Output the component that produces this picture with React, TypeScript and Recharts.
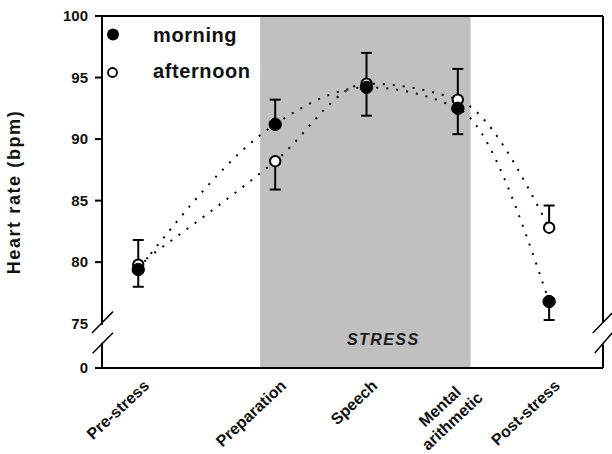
import { LineChart, Line, XAxis, YAxis, ErrorBar, ReferenceArea, ReferenceLine } from 'recharts'

// phases of the protocol
const categories = ['Pre-stress', 'Preparation', 'Speech', 'Mental arithmetic', 'Post-stress']
// mean heart rate (bpm)
const morningHR = [79.4, 91.2, 94.2, 92.5, 76.8]
const afternoonHR = [79.8, 88.2, 94.5, 93.2, 82.8]
// one-sided error bars (bpm)
const morningErrDown = [1.4, 0, 2.3, 2.1, 1.5]
const morningErrUp = [0, 2.0, 0, 0, 0]
const afternoonErrDown = [0, 2.3, 0, 0, 0]
const afternoonErrUp = [2.0, 0, 2.5, 2.5, 1.8]
const yTicks = [75, 80, 85, 90, 95, 100]

// axis layout: phase positions on the time axis, stress window, broken-axis floor
const PHASE_POS = [0, 1.5, 2.5, 3.5, 4.5]
const X_MIN = -0.397
const X_MAX = 5.09
const STRESS_FROM = 1.335
const STRESS_TO = 3.64
const Y_FLOOR = 71.4 // plotted position of "0" below the axis break
const Y_TOP = 100

const FONT = '"Liberation Sans", Arial, sans-serif'

const data = categories.map((c, i) => ({
  x: PHASE_POS[i],
  phase: c,
  morning: morningHR[i],
  afternoon: afternoonHR[i],
  mErr: [morningErrDown[i], morningErrUp[i]],
  aErr: [afternoonErrDown[i], afternoonErrUp[i]],
}))

function PhaseTick(props: any) {
  const { x, y, payload } = props
  const i = PHASE_POS.indexOf(payload.value)
  const label = categories[i] ?? ''
  const parts = label.split(' ')
  const style = { fontFamily: FONT, fontWeight: 700, fontSize: 16, fill: '#111' }
  if (parts.length > 1) {
    return (
      <g transform={`translate(${x + 26},${y + 31}) rotate(-43)`}>
        <text x={-12} y={-19} textAnchor="end" style={style}>{parts[0]}</text>
        <text x={0} y={0} textAnchor="end" style={style}>{parts[1]}</text>
      </g>
    )
  }
  return (
    <g transform={`translate(${x + 12},${y + 19}) rotate(-43)`}>
      <text x={0} y={0} textAnchor="end" style={style}>{label}</text>
    </g>
  )
}

function HRTick(props: any) {
  const { x, y, payload } = props
  const v = payload.value
  const label = v === Y_FLOOR ? '0' : String(v)
  return (
    <g>
      {v !== 75 && <line x1={x - 7} x2={x} y1={y} y2={y} stroke="#000" strokeWidth={2} />}
      <text x={x - 14} y={y} dy={5} textAnchor="end" style={{ fontFamily: FONT, fontWeight: 700, fontSize: 15, fill: '#111' }}>
        {label}
      </text>
    </g>
  )
}

function YTitle(props: any) {
  const vb = props.viewBox
  const cx = vb.x + 20
  const cy = vb.y + vb.height / 2
  return (
    <text transform={`translate(${cx},${cy}) rotate(-90)`} textAnchor="middle"
      style={{ fontFamily: FONT, fontWeight: 700, fontSize: 18, letterSpacing: 1.6, fill: '#111' }}>
      Heart rate (bpm)
    </text>
  )
}

function StressLabel(props: any) {
  const vb = props.viewBox
  return (
    <text x={vb.x + vb.width * 0.585} y={vb.y + vb.height - 23} textAnchor="middle"
      style={{ fontFamily: FONT, fontStyle: 'italic', fontWeight: 700, fontSize: 16, letterSpacing: 1.4, fill: '#1a1a1a' }}>
      STRESS
    </text>
  )
}

const frame = { stroke: '#000', strokeWidth: 2, ifOverflow: 'visible' as const }
const slash = { stroke: '#000', strokeWidth: 1.5, ifOverflow: 'visible' as const }
const dotted = { stroke: '#000', strokeWidth: 2, strokeDasharray: '2 8' }

export default function App() {
  return (
    <div style={{ position: 'absolute', left: 0, top: 0, width: 612, height: 454, background: '#fff' }}>
      <LineChart width={612} height={454} data={data} margin={{ top: 16, right: 9, left: 0, bottom: 0 }}>
        <ReferenceArea x1={STRESS_FROM} x2={STRESS_TO} y1={Y_FLOOR} y2={Y_TOP} fill="#c0c0c0" fillOpacity={1} stroke="none"
          ifOverflow="visible" label={(p: any) => <StressLabel {...p} />} />
        <XAxis dataKey="x" type="number" domain={[X_MIN, X_MAX]} allowDataOverflow ticks={PHASE_POS}
          tick={<PhaseTick />} tickLine={false} tickSize={0} tickMargin={0} height={86}
          axisLine={{ stroke: '#000', strokeWidth: 2 }} interval={0} />
        <YAxis type="number" domain={[Y_FLOOR, Y_TOP]} allowDataOverflow ticks={[Y_FLOOR, ...yTicks]}
          tick={<HRTick />} tickLine={false} tickSize={0} tickMargin={0} width={102} axisLine={false}
          interval={0} label={(p: any) => <YTitle {...p} />} />

        {/* frame with axis breaks */}
        <ReferenceLine segment={[{ x: X_MIN, y: Y_TOP }, { x: X_MAX, y: Y_TOP }]} {...frame} />
        <ReferenceLine segment={[{ x: X_MIN, y: Y_TOP }, { x: X_MIN, y: 74.9 }]} {...frame} />
        <ReferenceLine segment={[{ x: X_MIN, y: 73.45 }, { x: X_MIN, y: Y_FLOOR }]} {...frame} />
        <ReferenceLine segment={[{ x: X_MAX, y: Y_TOP }, { x: X_MAX, y: 75.05 }]} {...frame} />
        <ReferenceLine segment={[{ x: X_MAX, y: 73.3 }, { x: X_MAX, y: Y_FLOOR }]} {...frame} />
        <ReferenceLine segment={[{ x: -0.507, y: 74.25 }, { x: -0.277, y: 75.98 }]} {...slash} />
        <ReferenceLine segment={[{ x: -0.5, y: 72.6 }, { x: -0.277, y: 74.27 }]} {...slash} />
        <ReferenceLine segment={[{ x: 4.978, y: 74.25 }, { x: 5.19, y: 75.87 }]} {...slash} />
        <ReferenceLine segment={[{ x: 5.0, y: 72.62 }, { x: 5.19, y: 74.25 }]} {...slash} />

        {/* error bars on their own series, kept under the markers */}
        <Line dataKey="afternoon" stroke="none" dot={false} activeDot={false} legendType="none" isAnimationActive={false}>
          <ErrorBar dataKey="aErr" direction="y" width={5.5} stroke="#000" strokeWidth={2} />
        </Line>
        <Line dataKey="morning" stroke="none" dot={false} activeDot={false} legendType="none" isAnimationActive={false}>
          <ErrorBar dataKey="mErr" direction="y" width={5.5} stroke="#000" strokeWidth={2} />
        </Line>

        <Line dataKey="afternoon" type="monotone" {...dotted}
          dot={{ r: 5.2, fill: '#fff', stroke: '#000', strokeWidth: 2, strokeDasharray: 'none' }} activeDot={false} isAnimationActive={false} />
        <Line dataKey="morning" type="monotone" {...dotted}
          dot={{ r: 6.2, fill: '#000', stroke: '#000', strokeWidth: 1, strokeDasharray: 'none' }} activeDot={false} isAnimationActive={false} />
      </LineChart>

      {/* legend */}
      <svg width={200} height={90} style={{ position: 'absolute', left: 100, top: 0 }}>
        <circle cx={13} cy={34.5} r={6} fill="#000" />
        <text x={53} y={42} style={{ fontFamily: FONT, fontWeight: 700, fontSize: 20, letterSpacing: 0.6, fill: '#111' }}>morning</text>
        <circle cx={12.5} cy={72.5} r={4.5} fill="#fff" stroke="#000" strokeWidth={1.8} />
        <text x={53} y={78} style={{ fontFamily: FONT, fontWeight: 700, fontSize: 20, letterSpacing: 0.6, fill: '#111' }}>afternoon</text>
      </svg>
    </div>
  )
}
